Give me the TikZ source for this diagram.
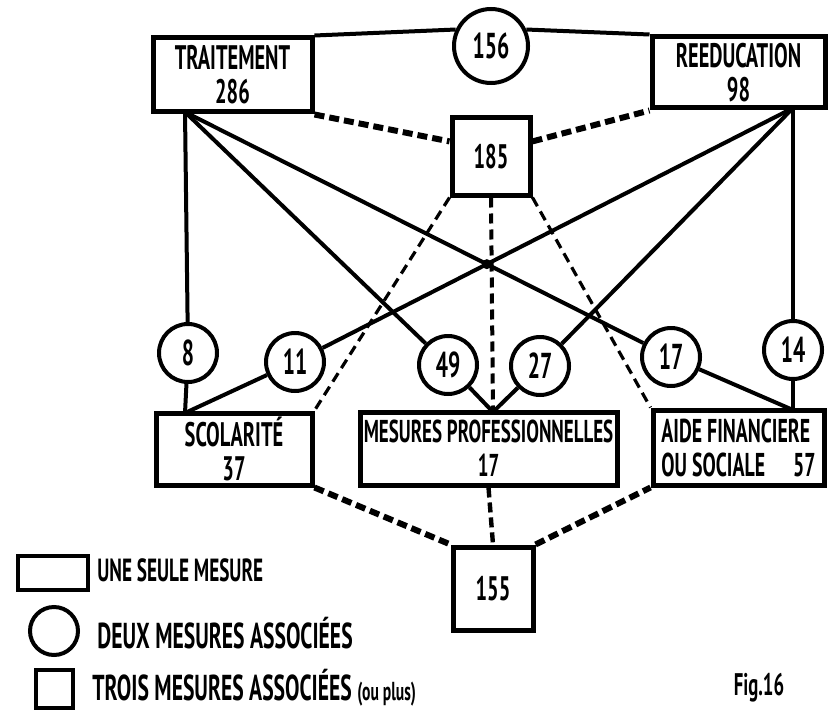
\documentclass[tikz,border=0pt]{standalone}
\usepackage{fontspec}
\setmainfont{PT Sans}[FakeStretch=0.6]
\usetikzlibrary{intersections}

\begin{document}
\begin{tikzpicture}[x=0.5pt, y=-0.5pt,
  box/.style={draw, line width=2.5pt, align=center, inner sep=0pt, font=\fontsize{17}{17}\selectfont\bfseries},
  pair/.style={draw, circle, line width=2pt, minimum size=29pt, inner sep=0pt, font=\fontsize{18}{18}\selectfont\bfseries},
  link/.style={line width=2pt},
  dashbig/.style={line width=3pt, dash pattern=on 5pt off 2.5pt},
  dashsmall/.style={line width=1.6pt, dash pattern=on 5pt off 3pt},
  legend/.style={anchor=west, inner sep=0pt, font=\fontsize{18}{18}\selectfont\bfseries}]
\useasboundingbox (0,0) rectangle (828,711);

% Single measures
\node[box, minimum width=79.5pt, minimum height=37pt] (trait) at (232.5,75) {TRAITEMENT\\286};
\node[box, minimum width=86.5pt, minimum height=35.5pt] (reedu) at (738.5,72.5) {REEDUCATION\\98};
\node[box, minimum width=78pt, minimum height=36pt] (scol) at (234,449) {SCOLARITÉ\\37};
\node[box, minimum width=128.5pt, minimum height=36.5pt, font=\fontsize{15.8}{17}\selectfont\bfseries] (mesu) at (488.5,448.5) {MESURES PROFESSIONNELLES\\17};
\node[box, minimum width=85.5pt, minimum height=37.5pt, align=left, font=\fontsize{16.5}{17}\selectfont\bfseries] (aide) at (738.5,447.5) {AIDE FINANCIERE\\OU SOCIALE\hspace{14pt}57};

% Three measures or more
\node[box, minimum width=39pt, minimum height=38.5pt] (b185) at (491,156.5) {185};
\node[box, minimum width=40pt, minimum height=41.5pt] (b155) at (493,588.5) {155};

% Two measures
\node[pair, minimum size=37pt] (c156) at (491,46) {156};
\node[pair] (c8) at (188,353) {8};
\node[pair] (c11) at (295,362) {11};
\node[pair] (c49) at (448,365) {49};
\node[pair] (c27) at (540,366) {27};
\node[pair] (c17) at (671,357) {17};
\node[pair] (c14) at (793,350) {14};

% Attach points on the boxes
\coordinate (tA) at (185,112);
\coordinate (rA) at (793,108);
\coordinate (sA) at (185,413);
\coordinate (mA) at (493,412);
\coordinate (aA) at (793,410);

% Solid links
\draw[link] (trait.north east) -- (c156.155);
\draw[link] (c156.25) -- (reedu.north west);
\draw[link] (tA) -- (c8);
\draw[link] (tA) -- (c49);
\draw[link, name path=lt] (tA) -- (c17);
\draw[link] (rA) -- (c14);
\draw[link] (rA) -- (c27);
\draw[link, name path=lr] (rA) -- (c11);
\draw[link] (c8) -- (sA);
\draw[link] (c11) -- (sA);
\draw[link] (c49) -- (mA);
\draw[link] (c27) -- (mA);
\draw[link] (c17) -- (aA);
\draw[link] (c14) -- (aA);
\fill[name intersections={of=lt and lr}] (intersection-1) circle (2.5pt);

% Dashed links
\draw[dashbig] (trait.south east) -- (b185.160);
\draw[dashbig] (b185.20) -- (reedu.south west);
\draw[dashsmall] (b185.south west) -- (scol.north east);
\draw[dashsmall, line width=2pt] (b185.south) -- (mA);
\draw[dashsmall] (b185.south east) -- (aide.north west);
\draw[dashbig] (scol.south east) -- (b155.north west);
\draw[dashbig, line width=2.2pt] (mesu.south) -- (b155.north);
\draw[dashbig] (b155.north east) -- (aide.south west);

% Legend
\node[draw, line width=2.4pt, minimum width=35pt, minimum height=17pt] (lrect) at (53,573) {};
\node[legend, font=\fontsize{16}{16}\selectfont\bfseries] (ltext1) at (97,570) {UNE SEULE MESURE};
\node[draw, circle, line width=2pt, minimum size=24pt] (lcirc) at (54,631) {};
\node[legend] (ltext2) at (97,633) {DEUX MESURES ASSOCIÉES};
\node[draw, line width=2.4pt, minimum width=18.5pt, minimum height=19pt] (lsq) at (54.5,689) {};
\node[legend] (ltext3) at (92,688) {TROIS MESURES ASSOCIÉES {\fontsize{13}{13}\selectfont(ou plus)}};
\node[font=\fontsize{15.6}{15.6}\selectfont\bfseries] (fig) at (759,688) {Fig.16};
\end{tikzpicture}
\end{document}
